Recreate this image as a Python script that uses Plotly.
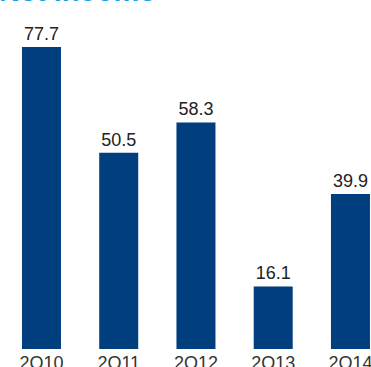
import plotly.graph_objects as go

# Net income by second quarter
quarters = ["2Q10", "2Q11", "2Q12", "2Q13", "2Q14"]
net_income = [77.7, 50.5, 58.3, 16.1, 39.9]
value_labels = ["77.7", "50.5", "58.3", "16.1", "39.9"]

BAR_COLOR = "#003e7e"
TITLE_COLOR = "#19a3e1"
FONT = "Liberation Sans, Arial, sans-serif"

fig = go.Figure(
    go.Bar(
        x=list(range(len(quarters))),
        y=net_income,
        width=0.505,
        marker=dict(color=BAR_COLOR, line=dict(width=0)),
        text=value_labels,
        textposition="outside",
        textfont=dict(family=FONT, size=18, color="#222222"),
        cliponaxis=False,
    )
)

fig.add_annotation(
    text="<b>Net Income</b>",
    xref="paper", yref="paper",
    x=0, y=1 - 9 / 349,
    xanchor="left", yanchor="bottom",
    showarrow=False,
    font=dict(family=FONT, size=29, color=TITLE_COLOR),
    xshift=-3,
)

fig.update_layout(
    width=371, height=367,
    margin=dict(l=0, r=0, t=0, b=18, autoexpand=False),
    paper_bgcolor="white",
    plot_bgcolor="white",
    showlegend=False,
    xaxis=dict(
        range=[-0.537, 4.266],
        tickmode="array",
        tickvals=list(range(len(quarters))),
        ticktext=quarters,
        showgrid=False, zeroline=False, showline=False, ticks="",
        automargin=False,
        ticklabeloverflow="allow",
        ticklabelstandoff=1,
        tickfont=dict(family=FONT, size=18, color="#333333"),
    ),
    yaxis=dict(
        range=[0, 89.8],
        visible=False,
        automargin=False,
    ),
)

fig.write_html("out.html")
